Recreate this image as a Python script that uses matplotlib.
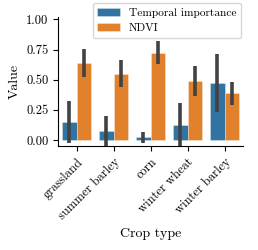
import matplotlib
matplotlib.use("Agg")
import matplotlib.pyplot as plt
import numpy as np

crops = ["grassland", "summer barley", "corn", "winter wheat", "winter barley"]
series = ["Temporal importance", "NDVI"]

temporal = [0.149, 0.072, 0.025, 0.127, 0.474]
temporal_lo = [-0.022, -0.08, -0.022, -0.08, 0.234]
temporal_hi = [0.322, 0.198, 0.066, 0.303, 0.716]

ndvi = [0.642, 0.551, 0.724, 0.490, 0.386]
ndvi_lo = [0.523, 0.440, 0.634, 0.366, 0.290]
ndvi_hi = [0.758, 0.661, 0.821, 0.612, 0.479]

colors = ["#3274a1", "#e1812c"]

plt.rcParams["font.family"] = ["cmr10", "DejaVu Serif"]
plt.rcParams["axes.formatter.use_mathtext"] = True
plt.rcParams["mathtext.fontset"] = "cm"

fig = plt.figure(figsize=(2.58, 2.50), dpi=100)
ax = fig.add_axes([0.225, 0.416, 0.717, 0.516])

x = np.arange(len(crops))
width = 0.4
values = [temporal, ndvi]
lows = [temporal_lo, ndvi_lo]
highs = [temporal_hi, ndvi_hi]

for i, name in enumerate(series):
    pos = x + (i - 0.5) * width
    ax.bar(pos, values[i], width, color=colors[i], label=name,
           edgecolor=(1, 1, 1, 0.35), linewidth=0.6)
    ax.vlines(pos, lows[i], highs[i], color="#424242", linewidth=2.6, zorder=3)

ax.set_xlim(-0.5, 4.5)
ax.set_ylim(-0.05, 1.02)
ax.set_yticks([0, 0.25, 0.5, 0.75, 1.0])
ax.set_yticklabels(["0.00", "0.25", "0.50", "0.75", "1.00"])
ax.set_xticks(x)
ax.set_xticklabels(crops, rotation=45, ha="right", rotation_mode="anchor")
ax.tick_params(labelsize=9, length=3.5, width=0.8)

ax.spines["top"].set_visible(False)
ax.spines["right"].set_visible(False)

ax.set_xlabel("Crop type", fontsize=10)
ax.set_ylabel("Value", fontsize=10)

ax.legend(loc="upper right", bbox_to_anchor=(241 / 258, 1 - 3 / 250),
          bbox_transform=fig.transFigure, fontsize=8.2, borderaxespad=0,
          handlelength=2.0, framealpha=0.8)

fig.savefig("out.png", dpi=100)
